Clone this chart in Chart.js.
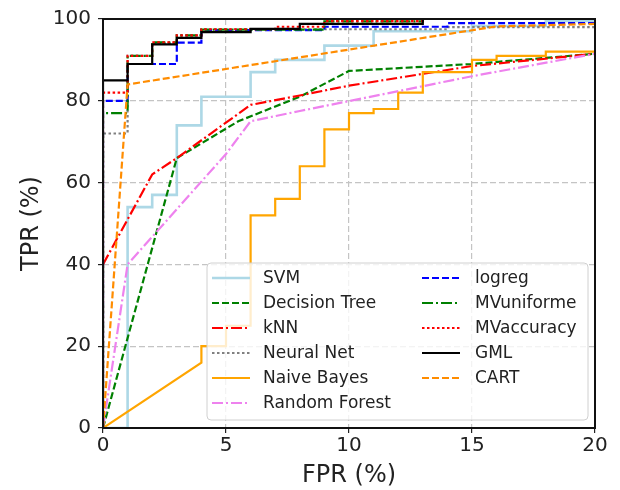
<!DOCTYPE html>
<html>
<head>
<meta charset="utf-8">
<script src="https://cdn.jsdelivr.net/npm/chart.js@4"></script>
<style>
  body { margin: 0; background: #fff; }
</style>
</head>
<body>
<canvas id="roc" width="620" height="490"></canvas>
<script>
// ROC curves, FPR (%) vs TPR (%)
const names = ['SVM', 'Decision Tree', 'kNN', 'Neural Net', 'Naive Bayes', 'Random Forest',
               'logreg', 'MVuniforme', 'MVaccuracy', 'GML', 'CART'];

// step curves (horizontal first, then up)
const svm = [[0,0],[1,54],[2,57],[3,74],[4,81],[6,87],[7,90],[9,93.5],[11,97],[15,98.3],[18,99.5],[20,99.5]];
const neuralNet = [[0,0],[0,72],[1,91],[2,94],[3,96],[4,97.5],[14,98],[20,98]];
const logreg = [[0,0],[0,80],[1,89],[3,94.2],[4,97.3],[9,98.1],[14,99],[20,99]];
const mvUniforme = [[0,0],[0,77],[1,91],[2,94.3],[3,96],[4,97.4],[9,99.4],[13,100],[20,100]];
const mvAccuracy = [[0,0],[0,82],[1,91],[2,94.3],[3,96],[4,97.5],[7,98.1],[9,99.5],[13,100],[20,100]];
const gml = [[0,0],[0,85],[1,89],[2,93.8],[3,95.4],[4,96.8],[6,97.6],[8,98.8],[13,100],[20,100]];

// straight-segment curves
const decisionTree = [[0,0],[3,66],[5.5,75],[8,81],[10,87.3],[15,89],[20,91.5]];
const knn = [[0,40],[1,51],[2,62],[3,66],[6,79],[8,81.3],[10,83.7],[15,88.5],[20,91.5]];
const randomForest = [[0,0],[1,40],[5,67],[6,75],[8,77.5],[15,86],[20,91.5]];
const cart = [[0,0],[1,84],[16,98.2],[20,98.8]];
const naiveBayes = [[0,0],[4,16],[4,20],[5,20],[5,25],[6,25],[6,52],[7,52],[7,56],[8,56],[8,64],[9,64],
                    [9,73],[10,73],[10,77],[11,77],[11,78],[12,78],[12,82],[13,82],[13,87],[15,87],
                    [15,90],[16,90],[16,91],[18,91],[18,92],[20,92]];

const xTicks = [0, 5, 10, 15, 20];
const yTicks = [0, 20, 40, 60, 80, 100];

const dashed = [7, 3];
const dashDot = [11, 3, 2, 3];
const dotted = [2.5, 2.5];

const styles = [
  { data: svm,          color: '#add8e6', dash: [],      stepped: 'before', width: 2.6 },
  { data: decisionTree, color: '#008000', dash: dashed,  stepped: false },
  { data: knn,          color: '#ff0000', dash: dashDot, stepped: false },
  { data: neuralNet,    color: '#808080', dash: dotted,  stepped: 'before' },
  { data: naiveBayes,   color: '#ffa500', dash: [],      stepped: false },
  { data: randomForest, color: '#ee82ee', dash: dashDot, stepped: false },
  { data: logreg,       color: '#0000ff', dash: dashed,  stepped: 'before' },
  { data: mvUniforme,   color: '#008000', dash: dashDot, stepped: 'before' },
  { data: mvAccuracy,   color: '#ff0000', dash: dotted,  stepped: 'before' },
  { data: gml,          color: '#000000', dash: [],      stepped: 'before' },
  { data: cart,         color: '#ff8c00', dash: dashed,  stepped: false }
];

const datasets = styles.map((s, i) => ({
  label: names[i],
  data: s.data.map(p => ({ x: p[0], y: p[1] })),
  borderColor: s.color,
  backgroundColor: s.color,
  borderDash: s.dash,
  borderWidth: s.width || 2.2,
  stepped: s.stepped,
  pointRadius: 0,
  tension: 0,
  fill: false,
  // later series go on top, like the original plot
  order: names.length - i
}));

// frame around the plot area, drawn above the curves
const framePlugin = {
  id: 'frame',
  afterDatasetsDraw(chart) {
    const { ctx, chartArea: a } = chart;
    ctx.save();
    ctx.strokeStyle = '#111';
    ctx.lineWidth = 2;
    ctx.strokeRect(a.left, a.top, a.right - a.left, a.bottom - a.top);
    ctx.restore();
  }
};

// two-column legend, filled column by column
const legendPlugin = {
  id: 'colLegend',
  afterDraw(chart) {
    const ctx = chart.ctx;
    const box = { x: 207, y: 263, w: 381, h: 157 };
    ctx.save();
    ctx.beginPath();
    ctx.roundRect(box.x, box.y, box.w, box.h, 4);
    ctx.fillStyle = 'rgba(255,255,255,0.8)';
    ctx.fill();
    ctx.strokeStyle = '#d0d0d0';
    ctx.lineWidth = 1;
    ctx.stroke();
    ctx.font = '17px "DejaVu Sans"';
    ctx.textBaseline = 'middle';
    chart.data.datasets.forEach((ds, i) => {
      const col = i < 6 ? 0 : 1;
      const row = i < 6 ? i : i - 6;
      const y = 278 + row * 25;
      const lx = col === 0 ? 212 : 422;
      const tx = col === 0 ? 263 : 475;
      ctx.beginPath();
      ctx.setLineDash(ds.borderDash);
      ctx.strokeStyle = ds.borderColor;
      ctx.lineWidth = ds.borderWidth;
      ctx.moveTo(lx, y);
      ctx.lineTo(lx + 38, y);
      ctx.stroke();
      ctx.setLineDash([]);
      ctx.fillStyle = '#222';
      ctx.fillText(ds.label, tx, y + 1);
    });
    ctx.restore();
  }
};

new Chart(document.getElementById('roc'), {
  type: 'line',
  data: { datasets },
  options: {
    responsive: false,
    animation: false,
    devicePixelRatio: 1,
    layout: { padding: { top: 15, right: 25, left: 0, bottom: 0 } },
    plugins: { legend: { display: false }, tooltip: { enabled: false } },
    scales: {
      x: {
        type: 'linear',
        min: 0, max: 20,
        afterBuildTicks: s => { s.ticks = xTicks.map(v => ({ value: v })); },
        afterFit: s => { s.height = 62; },
        grid: { color: '#c4c4c4', lineWidth: 1.2, tickLength: 5, tickColor: '#222', tickWidth: 1.2, tickBorderDash: [] },
        border: { display: false, dash: [6, 3] },
        ticks: { color: '#222', padding: 1, font: { family: 'DejaVu Sans', size: 20 } },
        title: { display: true, text: 'FPR (%)', color: '#222', padding: { top: 0, bottom: 0 },
                 font: { family: 'DejaVu Sans', size: 24 } }
      },
      y: {
        min: 0, max: 100,
        afterBuildTicks: s => { s.ticks = yTicks.map(v => ({ value: v })); },
        afterFit: s => { s.width = 103; },
        grid: { color: '#c4c4c4', lineWidth: 1.2, tickLength: 5, tickColor: '#222', tickWidth: 1.2, tickBorderDash: [] },
        border: { display: false, dash: [6, 3] },
        ticks: { color: '#222', padding: 7, font: { family: 'DejaVu Sans', size: 20 } },
        title: { display: true, text: 'TPR (%)', color: '#222', padding: { top: 17, bottom: 0 },
                 font: { family: 'DejaVu Sans', size: 24 } }
      }
    }
  },
  plugins: [framePlugin, legendPlugin]
});
</script>
</body>
</html>
